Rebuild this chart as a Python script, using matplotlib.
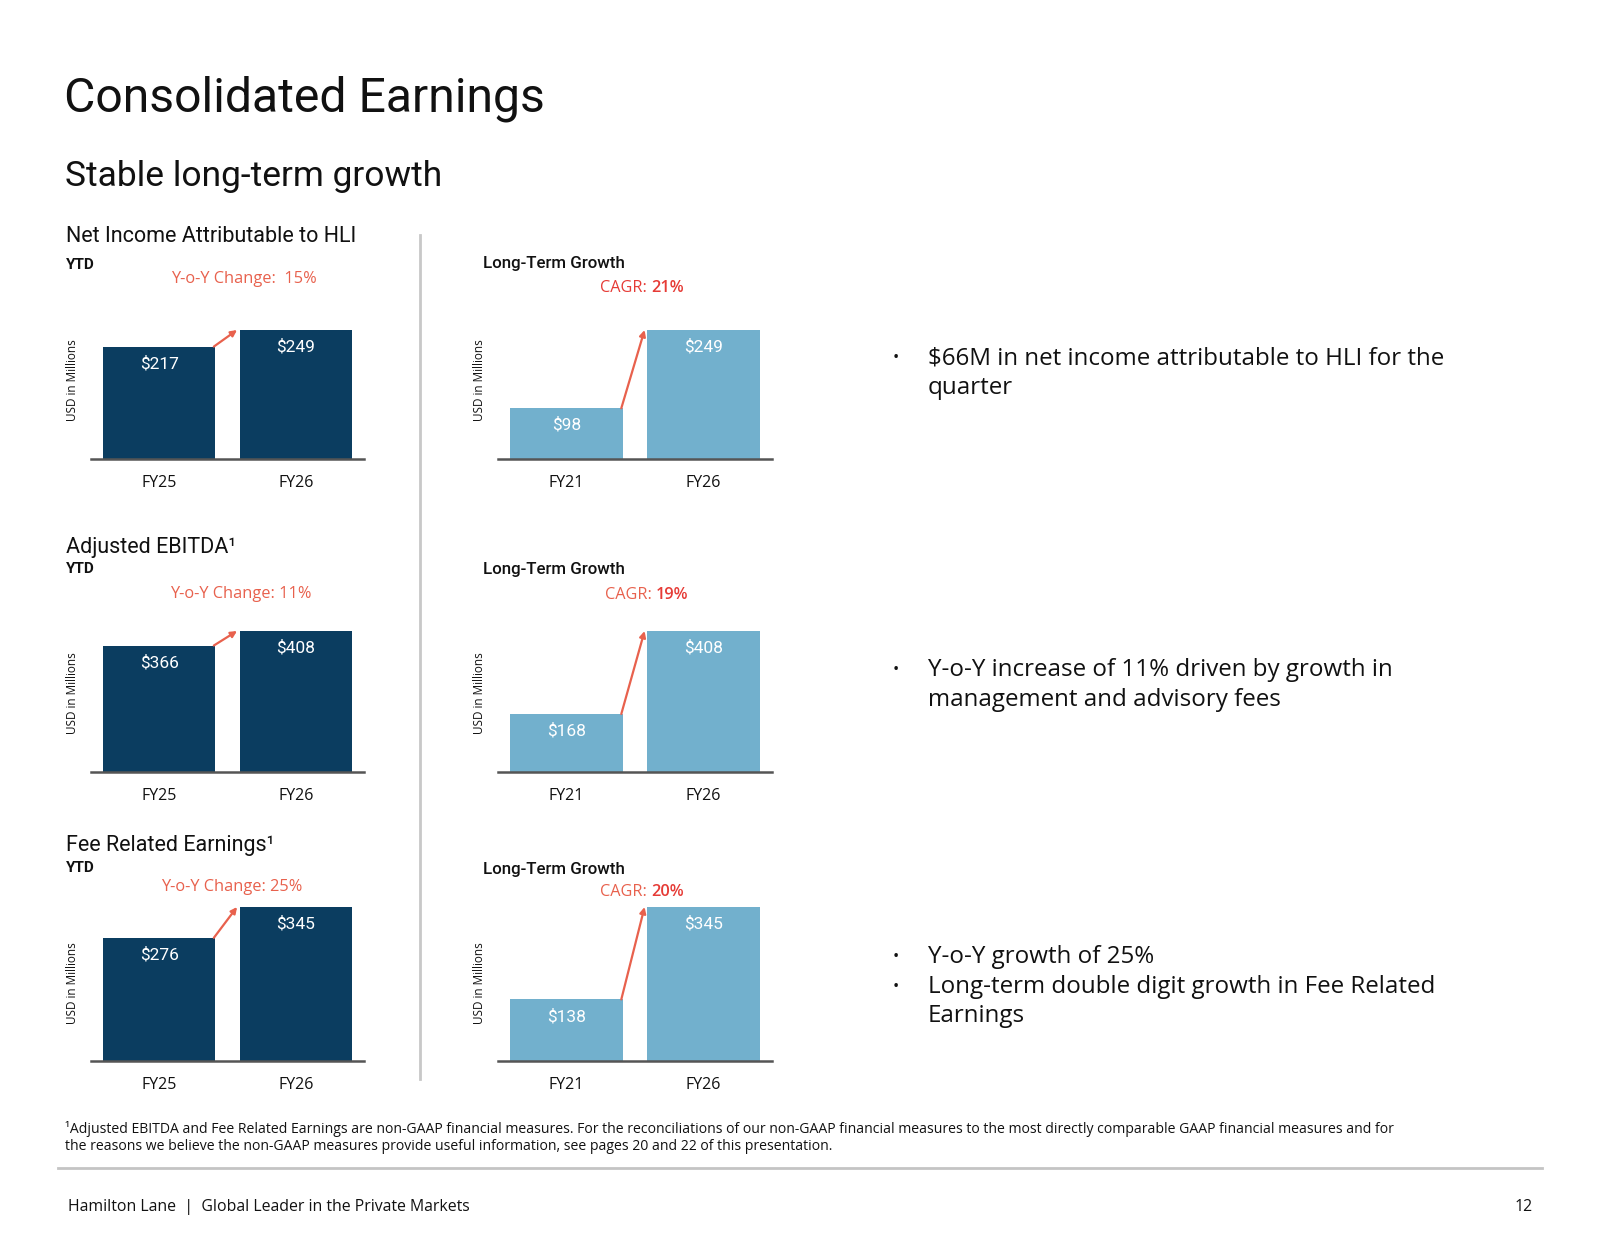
import matplotlib
matplotlib.use('Agg')
from matplotlib import pyplot as plt

# Data
ytd_years = ['FY25', 'FY26']
lt_years = ['FY21', 'FY26']

net_income_ytd = [217, 249]
net_income_lt = [98, 249]
ebitda_ytd = [366, 408]
ebitda_lt = [168, 408]
fre_ytd = [276, 345]
fre_lt = [138, 345]

section_titles = ['Net Income Attributable to HLI', 'Adjusted EBITDA¹', 'Fee Related Earnings¹']
yoy_text = ['Y-o-Y Change:  15%', 'Y-o-Y Change: 11%', 'Y-o-Y Change: 25%']
cagr_text = ['21%', '19%', '20%']

bullets = [
    ['$66M in net income attributable to HLI for the', 'quarter'],
    ['Y-o-Y increase of 11% driven by growth in', 'management and advisory fees'],
    ['Y-o-Y growth of 25%', 'Long-term double digit growth in Fee Related', 'Earnings'],
]

NAVY = '#0B3D60'
LIGHT = '#72B0CD'
CORAL = '#E8614D'
RED = '#E63B36'
TEXT = '#111111'

plt.rcParams['font.family'] = ['Open Sans', 'DejaVu Sans']
ROBOTO = ['Roboto', 'DejaVu Sans']

W, H = 1600, 1237
fig = plt.figure(figsize=(16, 12.37), dpi=100)


def fx(x):
    return x / W


def fy(y):
    return 1 - y / H


# Titles
fig.text(fx(64), fy(112), 'Consolidated Earnings', fontsize=34.7, color=TEXT, va='baseline',
         family=ROBOTO)
fig.text(fx(65), fy(186), 'Stable long-term growth', fontsize=25.5, color=TEXT, va='baseline',
         family=ROBOTO)

# row geometry (pixel positions): bar top, baseline
rows = [(330, 459), (631, 772), (907, 1061)]
title_base = [242, 553, 851]
ytd_base = [269, 573, 872]
yoy_base = [283, 598, 891]
yoy_x = [244, 241, 232]
lt_base = [268, 574, 874]
cagr_base = [292, 599, 896]
cagr_split = [647, 652, 647]
ylab_center = [380, 693, 983]

ytd_data = [net_income_ytd, ebitda_ytd, fre_ytd]
lt_data = [net_income_lt, ebitda_lt, fre_lt]

bw = 0.82


def draw_bars(left, right, top, base, values, labels, color, ylab_pos):
    ax = fig.add_axes([fx(left), fy(base), (right - left) / W, (base - top) / H])
    x = [0, 1]
    ax.bar(x, values, width=bw, color=color, zorder=2)
    ax.set_xlim(-0.5, 1.5)
    ax.set_ylim(0, max(values))
    for xi, v in zip(x, values):
        ax.annotate(f'${v}', xy=(xi, v), xytext=(0, -17), textcoords='offset pixels',
                    ha='center', va='center', color='white', fontsize=12.5,
                    family=ROBOTO, annotation_clip=False)
    # growth arrow
    ax.annotate('', xy=(1 - bw / 2 - 0.02, values[1]), xytext=(bw / 2 - 0.01, values[0]),
                arrowprops=dict(arrowstyle='-|>', color=CORAL, lw=1.6,
                                mutation_scale=9, shrinkA=0, shrinkB=0),
                annotation_clip=False)
    for s in ['top', 'right', 'left']:
        ax.spines[s].set_visible(False)
    ax.spines['bottom'].set_color('#555555')
    ax.spines['bottom'].set_linewidth(1.8)
    ax.set_yticks([])
    ax.set_xticks(x)
    ax.set_xticklabels(labels, fontsize=11.5, color=TEXT)
    ax.tick_params(axis='x', length=0, pad=11.5)
    ax.set_ylabel('USD in Millions', fontsize=8.5, color=TEXT)
    ax.yaxis.set_label_coords((ylab_pos[0] - left) / (right - left),
                              (base - ylab_pos[1]) / (base - top))
    ax.patch.set_alpha(0)
    return ax


for i in range(3):
    top, base = rows[i]
    # left (YTD) block
    fig.text(fx(66), fy(title_base[i]), section_titles[i], fontsize=15.5, color=TEXT,
             va='baseline', family=ROBOTO)
    fig.text(fx(66), fy(ytd_base[i]), 'YTD', fontsize=11, color=TEXT, va='baseline',
             fontweight='bold', family=ROBOTO)
    fig.text(fx(yoy_x[i]), fy(yoy_base[i]), yoy_text[i], fontsize=11.8, color=CORAL,
             va='baseline', ha='center')
    draw_bars(91, 364, top, base, ytd_data[i], ytd_years, NAVY, (79, ylab_center[i]))

    # middle (long-term) block
    fig.text(fx(483), fy(lt_base[i]), 'Long-Term Growth', fontsize=12.2, color=TEXT,
             va='baseline', fontweight='medium', family=ROBOTO)
    fig.text(fx(cagr_split[i]), fy(cagr_base[i]), 'CAGR:', fontsize=11.7,
             color=RED if i == 0 else CORAL, va='baseline', ha='right')
    fig.text(fx(cagr_split[i] + 4), fy(cagr_base[i]), cagr_text[i], fontsize=11.7, color=RED,
             va='baseline', ha='left', fontweight='semibold')
    draw_bars(498, 772, top, base, lt_data[i], lt_years, LIGHT, (486, ylab_center[i]))

# separator between the two chart columns
fig.add_artist(plt.Line2D([fx(420), fx(420)], [fy(235), fy(1079)], color='#C8C8C8', lw=2))

# bullet text on the right
bullet_y = [[358, 388], [670, 700], [957, 987, 1016]]
bullet_start = [[True, False], [True, False], [True, True, False]]
for lines, ys, starts in zip(bullets, bullet_y, bullet_start):
    for line, y, st in zip(lines, ys, starts):
        if st:
            fig.text(fx(893), fy(y), '•', fontsize=12, color=TEXT, va='center')
        fig.text(fx(928), fy(y), line, fontsize=17.4, color=TEXT, va='center')

# footnote
fig.text(fx(65), fy(1129),
         '¹Adjusted EBITDA and Fee Related Earnings are non-GAAP financial measures. For the reconciliations '
         'of our non-GAAP financial measures to the most directly comparable GAAP financial measures and for',
         fontsize=10.05, color=TEXT, va='center')
fig.text(fx(65), fy(1147),
         'the reasons we believe the non-GAAP measures provide useful information, see pages 20 and 22 '
         'of this presentation.',
         fontsize=10.05, color=TEXT, va='center')

fig.add_artist(plt.Line2D([fx(58), fx(1542)], [fy(1168), fy(1168)], color='#C4C4C4', lw=2))

fig.text(fx(68), fy(1207), 'Hamilton Lane  |  Global Leader in the Private Markets', fontsize=11.4,
         color=TEXT, va='center')
fig.text(fx(1533), fy(1207), '12', fontsize=11.4, color=TEXT, va='center', ha='right')

fig.savefig('out.png', dpi=100, facecolor='white')
